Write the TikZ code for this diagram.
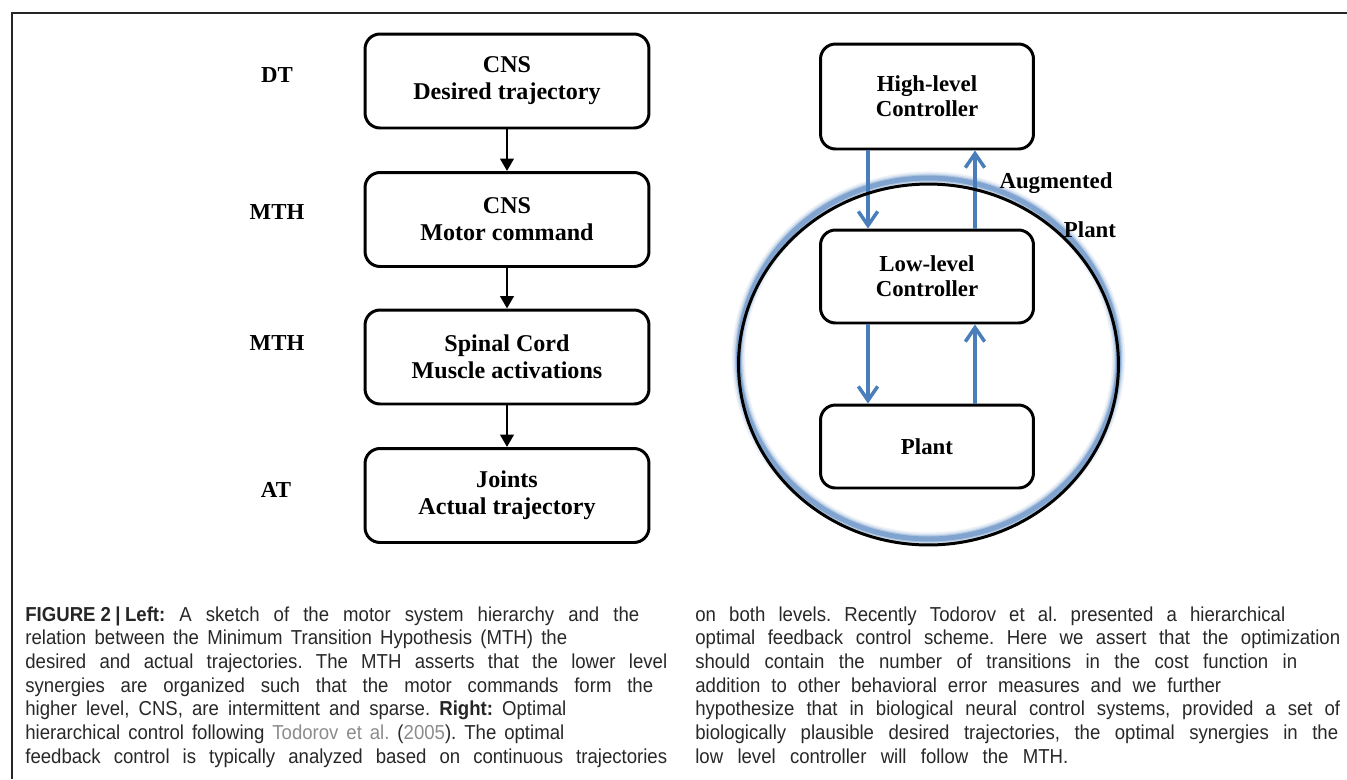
\documentclass[tikz,border=0pt]{standalone}
\usepackage{fontspec}
\setmainfont{Liberation Serif}
\newfontfamily\capf[FakeStretch=0.92]{Liberation Sans}
\usetikzlibrary{arrows.meta}
\definecolor{lineblue}{RGB}{74,126,187}
\definecolor{captxt}{RGB}{40,40,40}
\definecolor{linkgray}{RGB}{140,140,140}
\frenchspacing
\begin{document}
\begin{tikzpicture}[x=0.02cm,y=-0.02cm,
  box/.style={draw=black, line width=1.7pt, rounded corners=0.3cm, align=center, inner sep=0pt},
  lbox/.style={box, minimum width=5.68cm, minimum height=1.88cm, font=\fontsize{13.7}{15.3}\selectfont\bfseries},
  rbox/.style={box, minimum width=4.26cm, font=\fontsize{13}{14.2}\selectfont\bfseries},
  lvl/.style={font=\fontsize{13}{15}\selectfont\bfseries},
  blk/.style={line width=1.7pt, -{Triangle[length=7pt,width=7.5pt]}},
  blu/.style={draw=lineblue, line width=2pt, -{Straight Barb[length=8pt,width=11pt,line width=2pt]}},
  capl/.style={anchor=base west, inner sep=0pt, font=\capf\fontsize{11.5}{13}\selectfont, text=captxt}
]
\useasboundingbox (0,0) rectangle (1347,779);
\fill[white] (0,0) rectangle (1347,779);
% frame
\draw[line width=1.1pt, black!85] (12,779) -- (12,13) -- (1347,13);

% left hierarchy
\node[lbox] (b1) at (507,81)    {CNS\\Desired trajectory};
\node[lbox] (b2) at (507,219.5) {CNS\\Motor command};
\node[lbox] (b3) at (507,357)   {Spinal Cord\\Muscle activations};
\node[lbox] (b4) at (507,495.5) {Joints\\Actual trajectory};
\draw[blk] (b1) -- (b2);
\draw[blk] (b2) -- (b3);
\draw[blk] (b3) -- (b4);

\node[lvl] (dt)   at (277,75)  {DT};
\node[lvl] (mth1) at (277,212) {MTH};
\node[lvl] (mth2) at (277,343) {MTH};
\node[lvl] (at)   at (276,490) {AT};

% right hierarchy
\node[rbox, minimum height=2.1cm]  (hl) at (927,96.5)  {High-level\\Controller};
\node[rbox, minimum height=1.86cm] (ll) at (927,276.5) {Low-level\\Controller};
\node[rbox, minimum height=1.66cm] (pl) at (927,446.5) {Plant};

\draw[blu] ([xshift=-1.18cm]hl.south) -- ([xshift=-1.18cm]ll.north);
\draw[blu] ([xshift=0.96cm]ll.north) -- ([xshift=0.96cm]hl.south);
\draw[blu] ([xshift=-1.18cm]ll.south) -- ([xshift=-1.18cm]pl.north);
\draw[blu] ([xshift=0.96cm]pl.north) -- ([xshift=0.96cm]ll.south);

% augmented plant ellipse with glow
\foreach \w/\o in {7.5pt/0.10, 5.5pt/0.16, 4pt/0.26, 2.8pt/0.45}
  \draw[lineblue, opacity=\o, line width=\w] (928.5,358.5) ellipse [x radius=3.80cm, y radius=3.61cm];
\draw[line width=1.7pt] (928.5,364.5) ellipse [x radius=3.80cm, y radius=3.61cm];

\node[lvl] (aug) at (1056,183) {Augmented};
\node[lvl] (apl) at (1090,230) {Plant};

% caption, left column
\node[capl] (c1) at (25,621)   {\makebox[12.28cm][s]{\textbf{\color{black!85}FIGURE\kern0.25em2\kern0.22em|\kern0.22em Left:} A sketch of the motor system hierarchy and the}};
\node[capl] (c2) at (25,644.7) {\makebox[10.84cm][s]{relation between the Minimum Transition Hypothesis (MTH) the}};
\node[capl] (c3) at (25,668.4) {\makebox[12.84cm][s]{desired and actual trajectories. The MTH asserts that the lower level}};
\node[capl] (c4) at (25,692.1) {\makebox[12.56cm][s]{synergies are organized such that the motor commands form the}};
\node[capl] (c5) at (25,715.8) {\makebox[10.82cm][s]{higher level, CNS, are intermittent and sparse. \textbf{\color{black!85}Right:} Optimal}};
\node[capl] (c6) at (25,739.5) {\makebox[10.78cm][s]{hierarchical control following \textcolor{linkgray}{Todorov et al.} (\textcolor{linkgray}{2005}). The optimal}};
\node[capl] (c7) at (25,763.2) {\makebox[12.84cm][s]{feedback control is typically analyzed based on continuous trajectories}};

% caption, right column
\node[capl] (d1) at (695,621)   {\makebox[11.80cm][s]{on both levels. Recently Todorov et al. presented a hierarchical}};
\node[capl] (d2) at (695,644.7) {\makebox[12.90cm][s]{optimal feedback control scheme. Here we assert that the optimization}};
\node[capl] (d3) at (695,668.4) {\makebox[12.04cm][s]{should contain the number of transitions in the cost function in}};
\node[capl] (d4) at (695,692.1) {\makebox[10.52cm][s]{addition to other behavioral error measures and we further}};
\node[capl] (d5) at (695,715.8) {\makebox[12.90cm][s]{hypothesize that in biological neural control systems, provided a set of}};
\node[capl] (d6) at (695,739.5) {\makebox[12.86cm][s]{biologically plausible desired trajectories, the optimal synergies in the}};
\node[capl] (d7) at (695,763.2) {\makebox[7.46cm][s]{low level controller will follow the MTH.}};
\end{tikzpicture}
\end{document}
